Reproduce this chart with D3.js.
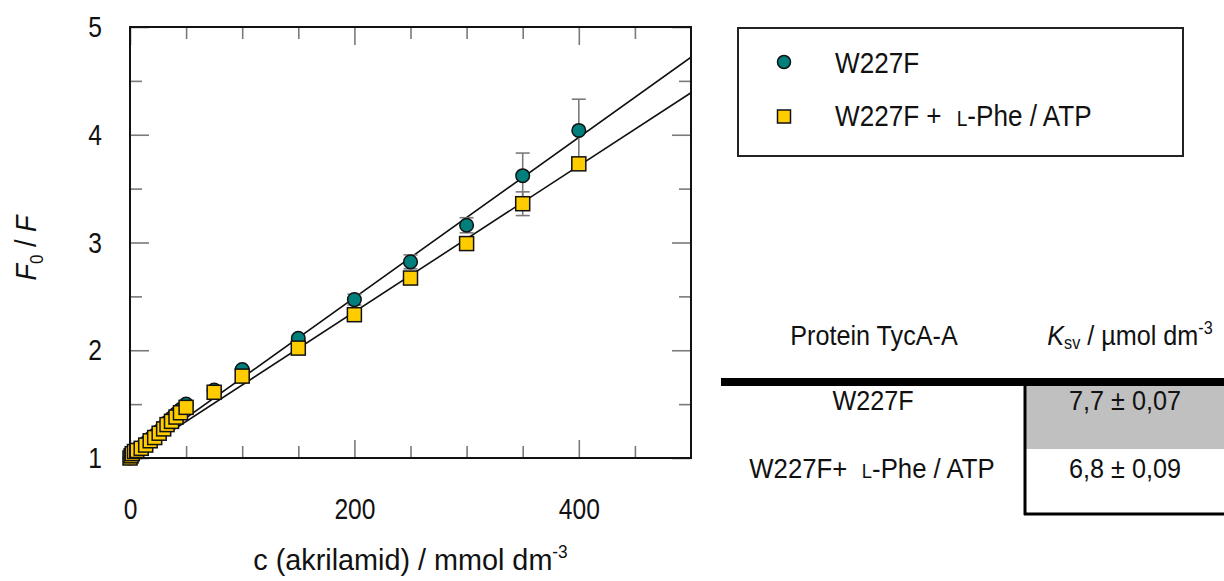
<!DOCTYPE html>
<html>
<head>
<meta charset="utf-8">
<script src="https://cdn.jsdelivr.net/npm/d3@7/dist/d3.min.js"></script>
<style>
  html, body { margin: 0; padding: 0; background: #fff; }
  svg text { font-family: "Liberation Sans Narrow", "Liberation Sans", Arial, sans-serif; fill: #111; }
</style>
</head>
<body>
<svg id="chart" width="1224" height="581"></svg>
<script>
// ---- data ----
const concentrations = [0, 1, 2, 4, 6, 10, 14, 18, 22, 26, 30, 33, 37, 41, 45, 50, 75, 100, 150, 200, 250, 300, 350, 400];
const w227f = [1.00, 1.02, 1.04, 1.06, 1.08, 1.10, 1.14, 1.18, 1.21, 1.25, 1.29, 1.33, 1.37, 1.41, 1.45, 1.50, 1.63, 1.82, 2.11, 2.47, 2.82, 3.16, 3.62, 4.04];
const w227fErr = [0, 0, 0, 0, 0, 0, 0, 0, 0, 0, 0, 0, 0, 0, 0, 0.01, 0.01, 0.02, 0.02, 0.05, 0.065, 0.07, 0.21, 0.29];
const w227fPheAtp = [1.00, 1.02, 1.04, 1.06, 1.07, 1.09, 1.12, 1.16, 1.19, 1.23, 1.27, 1.31, 1.34, 1.38, 1.42, 1.47, 1.61, 1.76, 2.02, 2.33, 2.67, 2.99, 3.36, 3.73];
const w227fPheAtpErr = [0, 0, 0, 0, 0, 0, 0, 0, 0, 0, 0, 0, 0, 0, 0, 0.01, 0.01, 0.01, 0.02, 0.02, 0.03, 0.03, 0.11, 0.05];
const fitX = [0, 500];
const fitW227f = [1.00, 4.72];
const fitW227fPheAtp = [1.00, 4.39];
const xTickLabels = [0, 200, 400];
const xMinorTicks = [50, 100, 150, 250, 300, 350, 450];
const yTickLabels = [1, 2, 3, 4, 5];
const yMinorTicks = [1.5, 2.5, 3.5, 4.5];
const seriesNames = ["W227F", "W227F + L-Phe / ATP"];
const tableHeader = ["Protein TycA-A", "K", "sv", " / µmol dm", "-3"];
const tableProteins = ["W227F", "W227F+ L-Phe / ATP"];
const tableKsv = ["7,7 ± 0,07", "6,8 ± 0,09"];

// ---- layout ----
const svg = d3.select("#chart");
const x = d3.scaleLinear().domain([0, 500]).range([130, 691]);
const y = d3.scaleLinear().domain([1, 5]).range([458, 27]);
const tickColor = "#7a7a7a";
const FS = 30, SX = 0.82;

// text helper: condensed text anchored at (px, py)
function ctext(parent, px, py, anchor, sx, size) {
  return parent.append("g").attr("transform", `translate(${px},${py}) scale(${sx},1)`)
    .append("text").attr("x", 0).attr("y", 0).attr("text-anchor", anchor).style("font-size", size + "px");
}

function styleAxis(g) {
  g.select(".domain").remove();
  g.selectAll(".tick line").attr("stroke", tickColor).attr("stroke-width", 1.6);
  g.selectAll(".tick text").style("font-size", FS + "px").attr("fill", "#111");
}
// bottom
svg.append("g").attr("transform", `translate(0,${y(1)})`)
  .call(d3.axisBottom(x).tickValues(xTickLabels).tickSizeInner(-18).tickSizeOuter(0).tickPadding(40).tickFormat(d3.format("d")))
  .call(styleAxis)
  .call(g => g.selectAll(".tick text").attr("transform", `scale(${SX},1)`));
svg.append("g").attr("transform", `translate(0,${y(1)})`)
  .call(d3.axisBottom(x).tickValues(xMinorTicks).tickSizeInner(-12).tickSizeOuter(0).tickFormat(""))
  .call(styleAxis);
// top
svg.append("g").attr("transform", `translate(0,${y(5)})`)
  .call(d3.axisTop(x).tickValues(xTickLabels).tickSizeInner(-18).tickSizeOuter(0).tickFormat(""))
  .call(styleAxis);
svg.append("g").attr("transform", `translate(0,${y(5)})`)
  .call(d3.axisTop(x).tickValues(xMinorTicks).tickSizeInner(-12).tickSizeOuter(0).tickFormat(""))
  .call(styleAxis);
// left
svg.append("g").attr("transform", `translate(${x(0)},0)`)
  .call(d3.axisLeft(y).tickValues(yTickLabels).tickSizeInner(-19).tickSizeOuter(0).tickPadding(28).tickFormat(d3.format("d")))
  .call(styleAxis)
  .call(g => g.selectAll(".tick text").attr("x", 0).attr("transform", `translate(-28,0) scale(${SX},1)`));
svg.append("g").attr("transform", `translate(${x(0)},0)`)
  .call(d3.axisLeft(y).tickValues(yMinorTicks).tickSizeInner(-12).tickSizeOuter(0).tickFormat(""))
  .call(styleAxis);
// right
svg.append("g").attr("transform", `translate(${x(500)},0)`)
  .call(d3.axisRight(y).tickValues(yTickLabels).tickSizeInner(-19).tickSizeOuter(0).tickFormat(""))
  .call(styleAxis);
svg.append("g").attr("transform", `translate(${x(500)},0)`)
  .call(d3.axisRight(y).tickValues(yMinorTicks).tickSizeInner(-12).tickSizeOuter(0).tickFormat(""))
  .call(styleAxis);

// clip
svg.append("clipPath").attr("id", "plotclip").append("rect")
  .attr("x", x(0)).attr("y", y(5)).attr("width", x(500) - x(0)).attr("height", y(1) - y(5));
const plot = svg.append("g").attr("clip-path", "url(#plotclip)");

// fit lines
const line = d3.line().x(d => x(d[0])).y(d => y(d[1]));
[fitW227f, fitW227fPheAtp].forEach(f => {
  plot.append("path").datum(fitX.map((v, i) => [v, f[i]]))
    .attr("d", line).attr("fill", "none").attr("stroke", "#111").attr("stroke-width", 1.6);
});

// error bars
function errBars(vals, errs) {
  const data = concentrations.map((c, i) => ({ c, v: vals[i], e: errs[i] })).filter(d => d.e > 0);
  const g = svg.append("g").attr("stroke", "#7a7a7a").attr("stroke-width", 1.6);
  data.forEach(d => {
    g.append("line").attr("x1", x(d.c)).attr("x2", x(d.c)).attr("y1", y(d.v - d.e)).attr("y2", y(d.v + d.e));
    [d.v - d.e, d.v + d.e].forEach(v => {
      g.append("line").attr("x1", x(d.c) - 7).attr("x2", x(d.c) + 7).attr("y1", y(v)).attr("y2", y(v));
    });
  });
}
errBars(w227f, w227fErr);
errBars(w227fPheAtp, w227fPheAtpErr);

// markers
const teal = "#017f7c", gold = "#ffcc00";
svg.append("g").selectAll("circle").data(concentrations.map((c, i) => [c, w227f[i]]))
  .join("circle").attr("cx", d => x(d[0])).attr("cy", d => y(d[1])).attr("r", 6.8)
  .attr("fill", teal).attr("stroke", "#111").attr("stroke-width", 1.5);
svg.append("g").selectAll("rect").data(concentrations.map((c, i) => [c, w227fPheAtp[i]]))
  .join("rect").attr("x", d => x(d[0]) - 7).attr("y", d => y(d[1]) - 7).attr("width", 14).attr("height", 14)
  .attr("fill", gold).attr("stroke", "#111").attr("stroke-width", 1.5);

// frame
svg.append("rect").attr("x", x(0)).attr("y", y(5)).attr("width", x(500) - x(0)).attr("height", y(1) - y(5))
  .attr("fill", "none").attr("stroke", "#111").attr("stroke-width", 2);

// axis titles
const xt = ctext(svg, (x(0) + x(500)) / 2, 570, "middle", 0.96, 30);
xt.append("tspan").text("c (akrilamid) / mmol dm");
xt.append("tspan").text("-3").attr("dy", -12).style("font-size", "18px");

const yt = svg.append("text").attr("transform", "translate(36,248) rotate(-90) scale(0.9,1)").attr("text-anchor", "middle").style("font-size", "30px");
yt.append("tspan").text("F").style("font-style", "italic");
yt.append("tspan").text("0").attr("dy", 7).style("font-size", "19px");
yt.append("tspan").text(" / ").attr("dy", -7);
yt.append("tspan").text("F").style("font-style", "italic");

// legend
const lg = svg.append("g");
lg.append("rect").attr("x", 738).attr("y", 28).attr("width", 445).attr("height", 128)
  .attr("fill", "#fff").attr("stroke", "#222").attr("stroke-width", 2);
lg.append("circle").attr("cx", 784).attr("cy", 62).attr("r", 6.5).attr("fill", teal).attr("stroke", "#111").attr("stroke-width", 1.5);
lg.append("rect").attr("x", 777.5).attr("y", 110).attr("width", 13).attr("height", 13).attr("fill", gold).attr("stroke", "#111").attr("stroke-width", 1.5);
ctext(lg, 835, 73, "start", 0.87, 30).text(seriesNames[0]);
const l2 = ctext(lg, 835, 126, "start", 0.87, 30);
l2.append("tspan").text("W227F + ");
l2.append("tspan").text("L").attr("dx", 9).style("font-size", "22px");
l2.append("tspan").text("-Phe / ATP");

// table
const tb = svg.append("g");
tb.append("rect").attr("x", 1025).attr("y", 386).attr("width", 199).attr("height", 63).attr("fill", "#c0c0c0");
tb.append("line").attr("x1", 721).attr("x2", 1224).attr("y1", 382).attr("y2", 382).attr("stroke", "#000").attr("stroke-width", 8);
tb.append("line").attr("x1", 1025).attr("x2", 1025).attr("y1", 386).attr("y2", 515).attr("stroke", "#000").attr("stroke-width", 3);
tb.append("line").attr("x1", 1024).attr("x2", 1224).attr("y1", 514).attr("y2", 514).attr("stroke", "#000").attr("stroke-width", 3);

ctext(tb, 874, 345, "middle", 0.9, 28).text(tableHeader[0]);
const kh = ctext(tb, 1130, 345, "middle", 0.9, 28);
kh.append("tspan").text(tableHeader[1]).style("font-style", "italic");
kh.append("tspan").text(tableHeader[2]).attr("dy", 4).style("font-size", "18px");
kh.append("tspan").text(tableHeader[3]).attr("dy", -4);
kh.append("tspan").text(tableHeader[4]).attr("dy", -11).style("font-size", "18px");

ctext(tb, 873, 410, "middle", 0.9, 28).text(tableProteins[0]);
const p2 = ctext(tb, 872, 478, "middle", 0.92, 28);
p2.append("tspan").text("W227F+ ");
p2.append("tspan").text("L").attr("dx", 8).style("font-size", "20px");
p2.append("tspan").text("-Phe / ATP");
ctext(tb, 1125, 410, "middle", 0.9, 28).text(tableKsv[0]);
ctext(tb, 1125, 478, "middle", 0.9, 28).text(tableKsv[1]);
</script>
</body>
</html>
